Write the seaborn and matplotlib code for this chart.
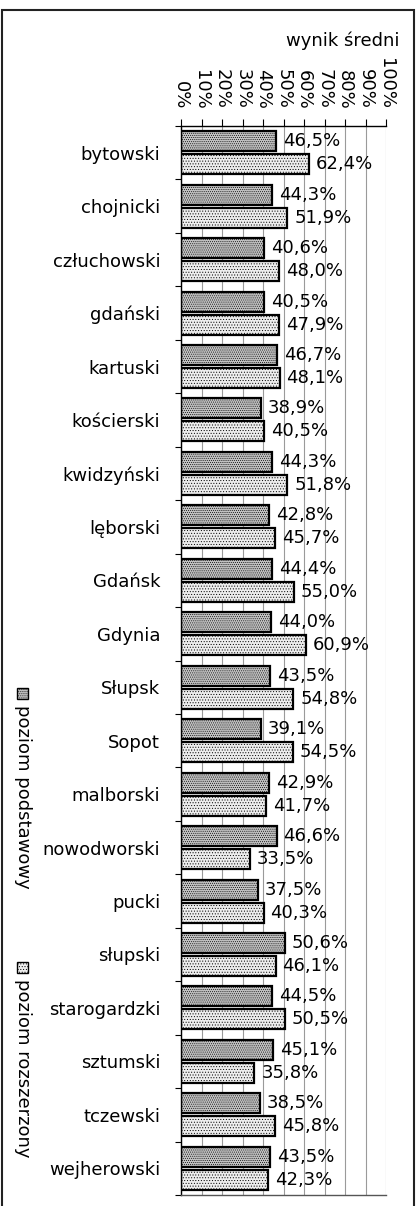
import numpy as np
import pandas as pd
import matplotlib
matplotlib.use("Agg")
import matplotlib.pyplot as plt
from matplotlib.patches import Rectangle
import seaborn as sns

# Average results per district, two exam levels
powiaty = ["bytowski", "chojnicki", "człuchowski", "gdański", "kartuski",
           "kościerski", "kwidzyński", "lęborski", "Gdańsk", "Gdynia",
           "Słupsk", "Sopot", "malborski", "nowodworski", "pucki",
           "słupski", "starogardzki", "sztumski", "tczewski", "wejherowski"]
podstawowy = [46.5, 44.3, 40.6, 40.5, 46.7, 38.9, 44.3, 42.8, 44.4, 44.0,
              43.5, 39.1, 42.9, 46.6, 37.5, 50.6, 44.5, 45.1, 38.5, 43.5]
rozszerzony = [62.4, 51.9, 48.0, 47.9, 48.1, 40.5, 51.8, 45.7, 55.0, 60.9,
               54.8, 54.5, 41.7, 33.5, 40.3, 46.1, 50.5, 35.8, 45.8, 42.3]
poziomy = ["poziom podstawowy", "poziom rozszerzony"]
x_ticks = list(range(0, 101, 10))
x_tick_labels = [f"{t}%" for t in x_ticks]

df = pd.DataFrame({
    "powiat": powiaty * 2,
    "wynik": podstawowy + rozszerzony,
    "poziom": [poziomy[0]] * len(powiaty) + [poziomy[1]] * len(powiaty),
})

sns.set_theme(style="white")
plt.rcParams["font.family"] = ["DejaVu Sans"]
plt.rcParams["hatch.color"] = "#a0a0a0"
plt.rcParams["hatch.linewidth"] = 0.4

W, H = 416, 1206
fig = plt.figure(figsize=(W / 100, H / 100), dpi=100)
fig.patch.set_facecolor("white")

ax_l, ax_r, ax_t, ax_b = 181, 386, 126, 1195
ax = fig.add_axes([ax_l / W, 1 - ax_b / H, (ax_r - ax_l) / W, (ax_b - ax_t) / H])

face_colors = ["#c2c2c2", "#ededed"]
hatch_colors = ["#8e8e8e", "#bdbdbd"]
hatches = ["........", "......"]
sns.barplot(data=df, x="wynik", y="powiat", hue="poziom", hue_order=poziomy,
            orient="h", palette=face_colors, width=0.86, gap=0.13,
            edgecolor="black", linewidth=1.6, legend=False, ax=ax)


def texture(patch, hatch, hcolor):
    patch.set_hatch(hatch)
    if hasattr(patch, "set_hatchcolor"):
        patch.set_hatchcolor(hcolor)
    if hasattr(patch, "set_hatch_linewidth"):
        patch.set_hatch_linewidth(0.4)


series = [podstawowy, rozszerzony]
for cont, hatch, hc, vals in zip(ax.containers, hatches, hatch_colors, series):
    for bar in cont:
        texture(bar, hatch, hc)
    ax.bar_label(cont, labels=[f"{v:.1f}%".replace(".", ",") for v in vals],
                 padding=5, fontsize=13, color="black")

# Axis scale and ticks
ax.set_xlim(0, 100)
ax.set_ylim(len(powiaty) - 0.5, -0.5)
ax.xaxis.tick_top()
ax.set_xticks(x_ticks, labels=x_tick_labels)
ax.tick_params(axis="x", which="major", top=True, bottom=False, direction="out",
               length=5, width=0.8, color="black", pad=7, labelsize=13,
               labelrotation=-90, labelcolor="black")
for lbl in ax.get_xticklabels():
    lbl.set_va("bottom")
    lbl.set_ha("center")

ax.set_yticks(np.arange(-0.5, len(powiaty), 1.0), labels=[""] * (len(powiaty) + 1))
ax.set_yticks(np.arange(len(powiaty)), labels=powiaty, minor=True)
ax.tick_params(axis="y", which="major", left=True, direction="out",
               length=4.5, width=0.8, color="black")
ax.tick_params(axis="y", which="minor", left=True, length=0, pad=15,
               labelsize=13, labelcolor="black")
ax.set_xlabel("")
ax.set_ylabel("")

ax.grid(axis="x", color="#9a9a9a", linewidth=0.8)
ax.grid(axis="y", visible=False)
ax.set_axisbelow(True)
for side in ["top", "left"]:
    ax.spines[side].set_color("black")
    ax.spines[side].set_linewidth(1.0)
ax.spines["bottom"].set_color("#555555")
ax.spines["bottom"].set_linewidth(1.0)
ax.spines["right"].set_visible(False)

# Title
fig.text(399 / W, 1 - 41 / H, "wynik średni", ha="right", va="center",
         fontsize=13, color="black")

# Vertical legend on the left
legend_items = [(688, 705), (962, 979)]
for (my, ty), name, fc, hatch, hc in zip(legend_items, poziomy, face_colors,
                                         hatches, hatch_colors):
    marker = Rectangle((17 / W, 1 - (my + 11) / H), 11 / W, 11 / H,
                       transform=fig.transFigure, facecolor=fc,
                       edgecolor="black", linewidth=1.0)
    texture(marker, hatch, hc)
    fig.add_artist(marker)
    fig.text(22.5 / W, 1 - ty / H, name, rotation=-90, ha="center", va="top",
             fontsize=13, color="black")

# Outer frame
fig.add_artist(Rectangle((1.5 / W, -0.02), (413.5 - 1.5) / W, 1.02 - 10 / H,
                         transform=fig.transFigure, fill=False,
                         edgecolor="#222222", linewidth=1.5, clip_on=False))

fig.savefig("out.png", dpi=100)
